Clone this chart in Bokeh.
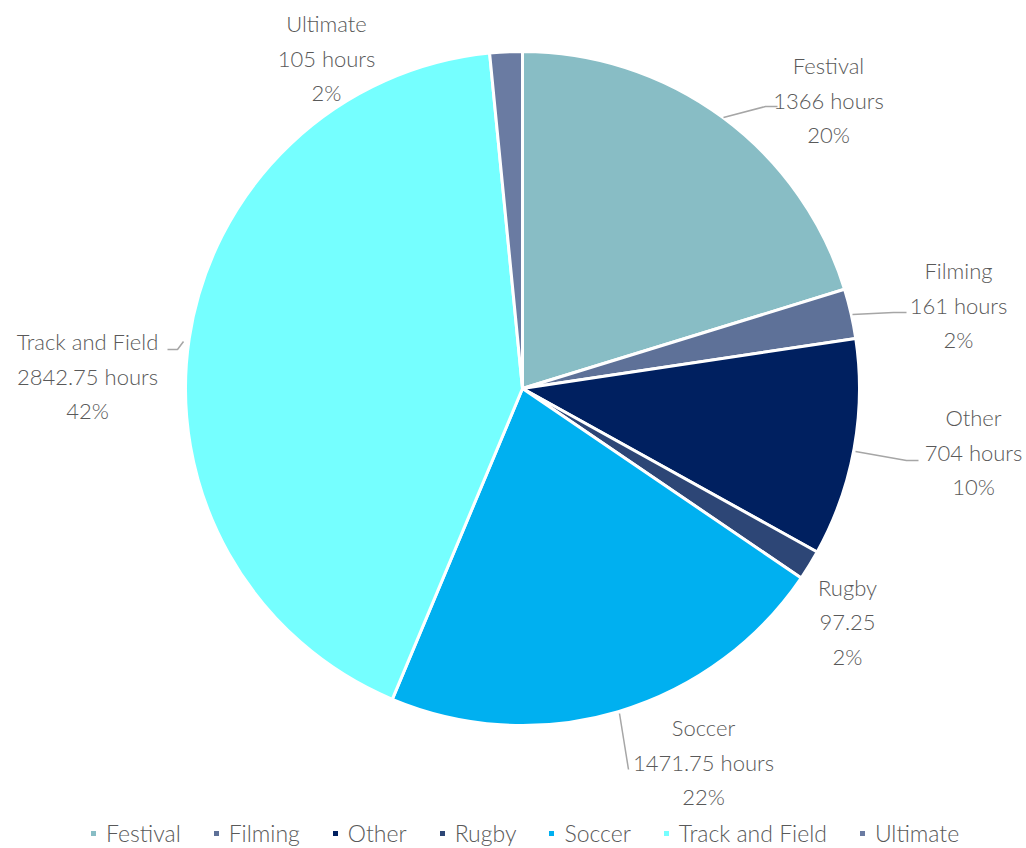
import math
from bokeh.plotting import figure
from bokeh.models import ColumnDataSource, Range1d, Legend, LegendItem
from bokeh.core.properties import value
from bokeh.embed import file_html
from bokeh.resources import INLINE

categories = ["Festival", "Filming", "Other", "Rugby", "Soccer", "Track and Field", "Ultimate"]
hours = [1366, 161, 704, 97.25, 1471.75, 2842.75, 105]
value_labels = ["1366 hours", "161 hours", "704 hours", "97.25", "1471.75 hours", "2842.75 hours", "105 hours"]
pct_labels = ["20%", "2%", "10%", "2%", "22%", "42%", "2%"]
colors = ["#88BDC5", "#5E7198", "#002060", "#2D4676", "#00B0F0", "#75FFFF", "#6A7BA2"]

W, H = 1026, 848
FONT = "Lato Light"
TXT = "#595959"

def px(x):
    return x

def py(y):
    return H - y

total = sum(hours)
starts, ends = [], []
acc = 0.0
for h in hours:
    a0 = math.pi / 2 - 2 * math.pi * acc / total
    acc += h
    a1 = math.pi / 2 - 2 * math.pi * acc / total
    starts.append(a1)
    ends.append(a0)

src = ColumnDataSource(dict(cat=categories, hours=hours, start=starts, end=ends, color=colors))

p = figure(width=W, height=H, output_backend="svg", toolbar_location=None,
           x_range=Range1d(0, W), y_range=Range1d(0, H), min_border=0)
p.axis.visible = False
p.grid.visible = False
p.outline_line_color = None
p.background_fill_color = "white"

cx, cy, r = px(522), py(388), 337
wr = p.wedge(x=cx, y=cy, radius=r, start_angle="start", end_angle="end",
             fill_color="color", line_color="white", line_width=3, source=src)

# leader lines (page pixel coordinates)
leaders = [
    [(723, 117), (765, 106), (777, 106)],
    [(852, 314), (893, 312), (906, 312)],
    [(855, 451), (906, 460), (918, 460)],
    [(619, 713), (628, 769)],
    [(183, 341), (177, 349), (167, 349)],
]
p.multi_line(xs=[[px(a) for a, b in L] for L in leaders],
             ys=[[py(b) for a, b in L] for L in leaders],
             line_color="#A6A6A6", line_width=1.5)

# label anchor positions (page px): center x, first line y
label_pos = [(828, 65), (958, 270), (973, 417), (847, 587), (703, 727), (87, 341), (326, 23)]
lx, ly, lt = [], [], []
for i, (x0, y0) in enumerate(label_pos):
    for k, t in enumerate([categories[i], value_labels[i], pct_labels[i]]):
        lx.append(px(x0))
        ly.append(py(y0 + k * 34.5))
        lt.append(t)
p.text(x=lx, y=ly, text=lt, text_font=value(FONT), text_font_size="22px",
       text_color=TXT, text_align="center", text_baseline="middle")

items = [LegendItem(label=c, renderers=[wr], index=i) for i, c in enumerate(categories)]
legend = Legend(items=items, orientation="horizontal", location=(88, 1),
                glyph_width=10, glyph_height=10, label_standoff=8, spacing=30,
                padding=0, margin=0, border_line_color=None, background_fill_alpha=0,
                label_text_font=FONT, label_text_font_size="23px", label_text_color=TXT)
p.add_layout(legend)

open("out.html", "w").write(file_html(p, INLINE))
